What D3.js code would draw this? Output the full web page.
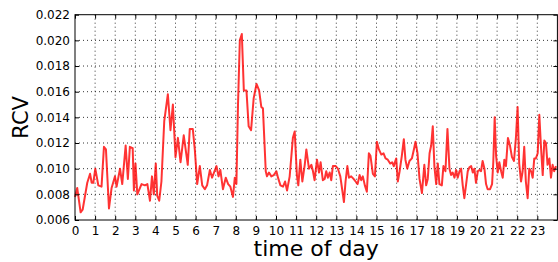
<!DOCTYPE html>
<html>
<head>
<meta charset="utf-8">
<script src="https://cdn.jsdelivr.net/npm/d3@7"></script>
<style>
  body { margin: 0; background: #fff; }
  svg text { font-family: "DejaVu Sans", sans-serif; fill: #000; }
</style>
</head>
<body>
<div id="chart"></div>
<script>
// hour of day (x) and RCV (y)
const hours = [
  0, 0.11, 0.28, 0.38, 0.61, 0.75, 0.83, 0.91, 1.01, 1.16, 1.32, 1.44, 1.54, 1.69, 1.82, 1.99,
  2.07, 2.24, 2.35, 2.52, 2.63, 2.73, 2.87, 2.93, 3.01, 3.10, 3.31, 3.48, 3.60, 3.73, 3.83, 3.92,
  4.02, 4.09, 4.19, 4.30, 4.44, 4.62, 4.75, 4.87, 5.00, 5.12, 5.25, 5.41, 5.61, 5.71, 5.86, 5.96,
  6.08, 6.21, 6.33, 6.46, 6.57, 6.71, 6.82, 6.94, 7.04, 7.14, 7.23, 7.36, 7.50, 7.62, 7.73, 7.86,
  7.95, 8.03, 8.11, 8.20, 8.30, 8.40, 8.53, 8.64, 8.76, 8.89, 9.03, 9.16, 9.27, 9.35, 9.49, 9.55,
  9.65, 9.77, 9.89, 10.02, 10.10, 10.22, 10.35, 10.45, 10.55, 10.68, 10.84, 10.93, 11.04, 11.11, 11.21, 11.31,
  11.43, 11.51, 11.64, 11.76, 11.84, 11.92, 12.04, 12.14, 12.22, 12.33, 12.42, 12.50, 12.58, 12.67, 12.75, 12.83,
  12.97, 13.08, 13.20, 13.30, 13.38, 13.46, 13.55, 13.63, 13.74, 13.86, 13.96, 14.06, 14.16, 14.24, 14.32, 14.42,
  14.52, 14.62, 14.70, 14.82, 14.92, 15.02, 15.12, 15.24, 15.35, 15.45, 15.56, 15.68, 15.78, 15.86, 15.98, 16.06,
  16.15, 16.26, 16.36, 16.44, 16.53, 16.64, 16.76, 16.86, 16.94, 17.04, 17.14, 17.26, 17.38, 17.47, 17.55, 17.64,
  17.72, 17.80, 17.88, 17.97, 18.05, 18.13, 18.25, 18.33, 18.43, 18.53, 18.63, 18.71, 18.79, 18.88, 18.96, 19.04,
  19.13, 19.21, 19.29, 19.37, 19.46, 19.54, 19.62, 19.71, 19.79, 19.87, 19.95, 20.04, 20.12, 20.20, 20.28, 20.37,
  20.45, 20.53, 20.65, 20.75, 20.81, 20.88, 20.95, 21.03, 21.11, 21.20, 21.28, 21.36, 21.44, 21.54, 21.64, 21.74,
  21.84, 21.94, 22.02, 22.10, 22.19, 22.27, 22.35, 22.43, 22.52, 22.60, 22.69, 22.77, 22.85, 22.93, 23.02, 23.10,
  23.18, 23.27, 23.35, 23.43, 23.51, 23.60, 23.68, 23.76, 23.84, 23.93
];
const rcv = [
  0.0078, 0.0085, 0.0066, 0.0068, 0.0089, 0.0096, 0.0089, 0.0089, 0.0100, 0.0087, 0.0086, 0.0117, 0.0115, 0.0069, 0.0085, 0.0094,
  0.0086, 0.0100, 0.0088, 0.0118, 0.0092, 0.0117, 0.0116, 0.0083, 0.0104, 0.0080, 0.0088, 0.0087, 0.0088, 0.0075, 0.0094, 0.0080,
  0.0104, 0.0079, 0.0075, 0.0090, 0.0137, 0.0158, 0.0130, 0.0150, 0.0109, 0.0124, 0.0105, 0.0126, 0.0103, 0.0131, 0.0131, 0.0115,
  0.0088, 0.0102, 0.0087, 0.0084, 0.0087, 0.0099, 0.0093, 0.0098, 0.0102, 0.0094, 0.0099, 0.0084, 0.0093, 0.0088, 0.0086, 0.0078,
  0.0093, 0.0088, 0.0150, 0.0200, 0.0205, 0.0161, 0.0161, 0.0133, 0.0130, 0.0155, 0.0166, 0.0161, 0.0148, 0.0147, 0.0098, 0.0094,
  0.0097, 0.0094, 0.0095, 0.0098, 0.0093, 0.0087, 0.0086, 0.0090, 0.0083, 0.0094, 0.0124, 0.0129, 0.0095, 0.0087, 0.0107, 0.0090,
  0.0103, 0.0115, 0.0100, 0.0103, 0.0098, 0.0091, 0.0107, 0.0097, 0.0105, 0.0091, 0.0092, 0.0098, 0.0093, 0.0097, 0.0091, 0.0102,
  0.0102, 0.0100, 0.0094, 0.0083, 0.0074, 0.0090, 0.0102, 0.0093, 0.0094, 0.0092, 0.0090, 0.0088, 0.0095, 0.0091, 0.0094, 0.0087,
  0.0082, 0.0112, 0.0110, 0.0096, 0.0094, 0.0121, 0.0115, 0.0111, 0.0112, 0.0108, 0.0107, 0.0104, 0.0105, 0.0102, 0.0108, 0.0090,
  0.0098, 0.0110, 0.0123, 0.0107, 0.0100, 0.0106, 0.0108, 0.0115, 0.0121, 0.0112, 0.0092, 0.0081, 0.0103, 0.0087, 0.0092, 0.0112,
  0.0118, 0.0133, 0.0102, 0.0088, 0.0104, 0.0088, 0.0087, 0.0102, 0.0098, 0.0131, 0.0100, 0.0095, 0.0097, 0.0093, 0.0099, 0.0093,
  0.0098, 0.0100, 0.0087, 0.0077, 0.0088, 0.0098, 0.0101, 0.0102, 0.0097, 0.0100, 0.0089, 0.0098, 0.0099, 0.0098, 0.0106, 0.0100,
  0.0088, 0.0084, 0.0084, 0.0088, 0.0105, 0.0140, 0.0110, 0.0097, 0.0105, 0.0098, 0.0093, 0.0107, 0.0102, 0.0124, 0.0118, 0.0109,
  0.0106, 0.0125, 0.0148, 0.0104, 0.0090, 0.0098, 0.0117, 0.0090, 0.0077, 0.0100, 0.0098, 0.0093, 0.0108, 0.0108, 0.0112, 0.0142,
  0.0118, 0.0095, 0.0122, 0.0120, 0.0103, 0.0108, 0.0093, 0.0103, 0.0098, 0.0102
];
const xTicks = d3.range(0, 24);
const yTicks = [0.006, 0.008, 0.010, 0.012, 0.014, 0.016, 0.018, 0.020, 0.022];

(() => {
  const W = 558, H = 262;
  const pL = 75, pR = 557.4, pT = 14.7, pB = 220;

  const svg = d3.select("#chart").append("svg")
    .attr("width", W).attr("height", H);

  const x = d3.scaleLinear().domain([0, 24]).range([pL, pR]);
  const y = d3.scaleLinear().domain([0.006, 0.022]).range([pB, pT]);

  // grid (dotted)
  const grid = svg.append("g");
  grid.selectAll("line.gx").data(xTicks.slice(1)).join("line")
    .attr("x1", d => x(d)).attr("x2", d => x(d))
    .attr("y1", pT).attr("y2", pB)
    .attr("stroke", "#000").attr("stroke-width", 0.8).attr("stroke-dasharray", "1,3");
  grid.selectAll("line.gy").data(yTicks.slice(1, -1)).join("line")
    .attr("x1", pL).attr("x2", pR)
    .attr("y1", d => y(d)).attr("y2", d => y(d))
    .attr("stroke", "#000").attr("stroke-width", 0.8).attr("stroke-dasharray", "1,3");

  // series
  const pts = hours.map((h, i) => [h, rcv[i]]);
  svg.append("path")
    .datum(pts)
    .attr("fill", "none")
    .attr("stroke", "#ff0000")
    .attr("stroke-opacity", 0.8)
    .attr("stroke-width", 2)
    .attr("stroke-linejoin", "round")
    .attr("d", d3.line().x(d => x(d[0])).y(d => y(d[1])));

  // axes, ticks inside
  const fmtY = d3.format(".3f");
  svg.append("g")
    .attr("transform", `translate(0,${pB})`)
    .call(d3.axisBottom(x).tickValues(xTicks).tickSizeInner(-4).tickSizeOuter(0).tickPadding(6).tickFormat(d3.format("d")))
    .call(g => g.selectAll("text").attr("font-size", 12).attr("font-family", "DejaVu Sans"))
    .call(g => g.select(".domain").remove());
  svg.append("g")
    .attr("transform", `translate(${pL},0)`)
    .call(d3.axisLeft(y).tickValues(yTicks).tickSizeInner(-4).tickSizeOuter(0).tickPadding(5).tickFormat(fmtY))
    .call(g => g.selectAll("text").attr("font-size", 12).attr("font-family", "DejaVu Sans"))
    .call(g => g.select(".domain").remove());
  svg.append("g")
    .attr("transform", `translate(0,${pT})`)
    .call(d3.axisTop(x).tickValues(xTicks).tickSizeInner(-4).tickSizeOuter(0).tickFormat(""))
    .call(g => g.select(".domain").remove());
  svg.append("g")
    .attr("transform", `translate(${pR},0)`)
    .call(d3.axisRight(y).tickValues(yTicks).tickSizeInner(-4).tickSizeOuter(0).tickFormat(""))
    .call(g => g.select(".domain").remove());

  // frame
  svg.append("rect")
    .attr("x", pL).attr("y", pT)
    .attr("width", pR - pL).attr("height", pB - pT)
    .attr("fill", "none").attr("stroke", "#000").attr("stroke-width", 1);

  // labels
  svg.append("text")
    .attr("x", (pL + pR) / 2).attr("y", 256)
    .attr("text-anchor", "middle").attr("font-size", 22)
    .text("time of day");
  svg.append("text")
    .attr("transform", `translate(28,${(pT + pB) / 2}) rotate(-90)`)
    .attr("text-anchor", "middle").attr("font-size", 21)
    .text("RCV");
})();
</script>
</body>
</html>
